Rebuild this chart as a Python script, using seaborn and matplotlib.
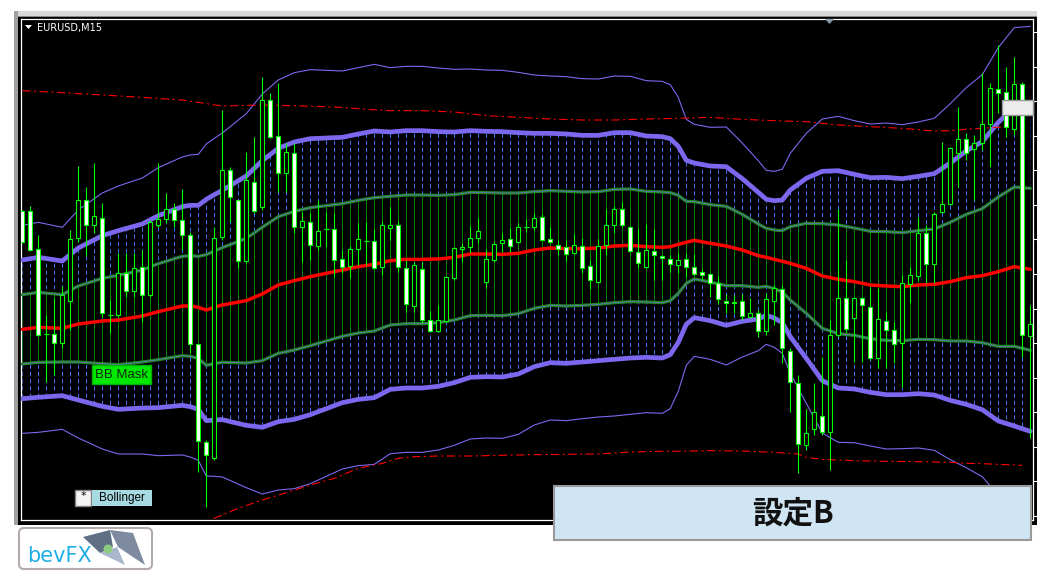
import numpy as np
import seaborn as sns
import matplotlib
matplotlib.use("Agg")
import matplotlib.pyplot as plt
from matplotlib.patches import Rectangle, Polygon, FancyBboxPatch, Circle
from matplotlib.path import Path

sns.set_style("dark")
plt.rcParams['font.family'] = ['DejaVu Sans']
plt.rcParams['lines.scale_dashes'] = False

BASE = 1.12000   # EURUSD, values below are points (0.00001) above this
POINT = 0.00001

# EURUSD M15 candles
open_pts = [927, 928, 812, 558, 558, 532, 658, 845, 959, 885,
            907, 616, 614, 740, 687, 758, 676, 884, 902, 932,
            900, 855, 528, 235, 185, 848, 1050, 959, 776, 1013,
            938, 1259, 1151, 1040, 1100, 878, 893, 822, 872, 872,
            782, 762, 814, 838, 837, 758, 875, 884, 755, 643,
            752, 599, 568, 598, 725, 812, 820, 845, 713, 779,
            830, 842, 835, 880, 878, 910, 842, 825, 820, 800,
            823, 763, 715, 824, 884, 932, 880, 803, 758, 808,
            793, 784, 765, 782, 758, 743, 738, 710, 658, 655,
            658, 609, 620, 568, 657, 692, 507, 410, 225, 272,
            312, 263, 555, 665, 605, 665, 640, 485, 598, 570,
            532, 707, 733, 860, 769, 923, 947, 1100, 1143, 1112,
            1130, 1187, 1292, 1283, 1172, 1307, 552]
high_pts = [930, 942, 855, 615, 665, 703, 870, 1063, 998, 1070,
            951, 660, 800, 800, 800, 810, 900, 1070, 980, 952,
            992, 865, 528, 240, 880, 1230, 1060, 960, 1105, 1150,
            1328, 1280, 1310, 1130, 1130, 925, 920, 960, 925, 922,
            810, 822, 890, 895, 873, 897, 938, 897, 780, 775,
            775, 627, 645, 732, 820, 832, 882, 905, 812, 835,
            860, 875, 890, 902, 922, 917, 880, 840, 840, 858,
            845, 780, 842, 932, 943, 955, 883, 872, 888, 872,
            795, 795, 800, 800, 797, 752, 742, 732, 678, 675,
            677, 665, 630, 680, 705, 705, 515, 435, 332, 410,
            490, 600, 932, 780, 670, 668, 700, 695, 625, 595,
            735, 760, 910, 885, 925, 1135, 1120, 1240, 1160, 1155,
            1340, 1310, 1425, 1360, 1388, 1315, 645]
low_pts = [830, 807, 552, 415, 435, 515, 570, 835, 792, 860,
           610, 562, 610, 670, 670, 595, 670, 880, 890, 880,
           810, 500, 145, 40, 180, 840, 893, 755, 770, 920,
           930, 1145, 985, 985, 860, 775, 780, 810, 820, 730,
           740, 725, 765, 765, 752, 735, 840, 745, 625, 625,
           590, 565, 565, 595, 720, 775, 800, 830, 695, 775,
           805, 805, 832, 865, 870, 838, 830, 795, 778, 798,
           740, 692, 710, 795, 860, 880, 805, 755, 755, 720,
           720, 745, 740, 730, 735, 720, 670, 648, 620, 620,
           600, 605, 550, 555, 585, 470, 325, 140, 210, 255,
           255, 150, 550, 565, 475, 475, 480, 455, 455, 470,
           400, 650, 720, 710, 710, 920, 945, 1000, 1080, 960,
           1110, 1060, 1220, 1150, 1155, 490, 245]
close_pts = [835, 810, 555, 558, 530, 675, 842, 959, 885, 911,
             620, 616, 740, 687, 755, 674, 894, 903, 934, 900,
             855, 527, 238, 195, 845, 1051, 970, 776, 1020, 928,
             1260, 1148, 1040, 1103, 878, 896, 825, 868, 872, 780,
             760, 812, 844, 838, 755, 884, 884, 758, 647, 764,
             600, 567, 601, 728, 815, 818, 845, 866, 782, 827,
             839, 823, 878, 880, 907, 841, 833, 812, 797, 824,
             755, 720, 823, 884, 932, 884, 807, 770, 811, 795,
             786, 768, 780, 759, 738, 735, 712, 662, 652, 650,
             612, 620, 568, 664, 695, 515, 413, 227, 260, 325,
             263, 555, 665, 572, 665, 645, 485, 602, 570, 528,
             710, 735, 860, 768, 917, 948, 1115, 1143, 1102, 1130,
             1187, 1295, 1280, 1180, 1307, 555, 587]

# Bollinger basis (red) and one standard deviation, read at these bars
band_bar = [0, 2, 5, 7, 10, 12, 15, 17, 20, 21, 22, 23, 24, 25, 28, 30, 32,
            34, 36, 38, 40, 42, 44, 46, 48, 50, 52, 54, 56, 58, 60, 62, 64,
            66, 68, 70, 72, 74, 76, 78, 80, 81, 82, 83, 84, 86, 88, 90, 92,
            93, 94, 95, 96, 98, 100, 102, 104, 106, 108, 110, 112, 114, 116,
            118, 120, 122, 124, 126]
mid_pts = [572, 578, 575, 588, 597, 600, 612, 625, 642, 642, 638, 630, 638,
           645, 658, 678, 705, 718, 730, 740, 750, 760, 767, 778, 782, 782,
           783, 788, 798, 798, 797, 800, 810, 816, 814, 814, 816, 822, 824,
           820, 818, 820, 827, 833, 839, 830, 822, 810, 793, 788, 782, 776,
           770, 755, 732, 722, 715, 705, 702, 700, 705, 707, 715, 727, 733,
           745, 760, 752]
sigma_pts = [104, 105, 101, 114, 128, 134, 138, 144, 149, 151, 153, 166, 169,
             172, 187, 200, 205, 208, 207, 203, 199, 199, 200, 193, 193, 193,
             191, 188, 185, 184, 184, 181, 175, 172, 172, 170, 169, 170, 169,
             166, 166, 162, 147, 123, 116, 116, 119, 107, 95, 87, 88, 92, 110,
             135, 157, 163, 161, 161, 163, 162, 163, 166, 178, 190, 201, 224,
             239, 243]

# longer period envelope (red dash-dot)
env_up_bar = [0, 5, 10, 15, 20, 25, 30, 35, 40, 43, 46, 50, 54, 58, 62, 66,
              70, 74, 78, 82, 86, 90, 94, 98, 102, 106, 110, 114, 116, 118,
              120, 123]
env_up_pts = [1288, 1282, 1275, 1268, 1260, 1242, 1245, 1242, 1238, 1232,
              1228, 1228, 1224, 1213, 1208, 1203, 1200, 1200, 1203, 1205,
              1208, 1202, 1198, 1195, 1185, 1180, 1175, 1167, 1168, 1172,
              1175, 1180]
env_lo_bar = [22, 24, 25, 27, 30, 33, 36, 39, 42, 45, 47, 49, 52, 56, 60, 64,
              68, 72, 76, 80, 84, 86, 90, 94, 97, 98, 100, 104, 108, 112, 116,
              118, 120, 122, 124, 125]
env_lo_pts = [-20, 5, 15, 35, 60, 82, 105, 125, 155, 170, 185, 190, 192, 192,
              194, 196, 197, 198, 204, 206, 207, 208, 207, 203, 198, 188, 182,
              178, 176, 175, 173, 170, 169, 167, 165, 164]

PURPLE = '#7b68ee'
LIME = '#00ff00'

to_price = lambda a: BASE + np.asarray(a, dtype=float) * POINT
o, h, l, c = map(to_price, (open_pts, high_pts, low_pts, close_pts))
bars = np.arange(len(open_pts))
bk = np.array(band_bar)
mid = to_price(mid_pts)
sig = np.asarray(sigma_pts, dtype=float) * POINT
ylo, yhi = BASE, BASE + 1503 * POINT

W, H = 1051, 580
fig = plt.figure(figsize=(W / 100, H / 100), dpi=100)
fig.patch.set_facecolor('white')


def px_box(x0, y0, x1, y1):
    return [x0 / W, 1 - y1 / H, (x1 - x0) / W, (y1 - y0) / H]


def overlay(z):
    a = fig.add_axes([0, 0, 1, 1], zorder=z)
    a.set_xlim(0, W)
    a.set_ylim(H, 0)
    a.axis('off')
    a.patch.set_alpha(0)
    return a


# window frame behind the chart
bg = overlay(0)
bg.add_patch(Rectangle((14, 11), 1023, 6, fc='#d8d8d8', ec='none'))
bg.add_patch(Rectangle((14, 16), 1023, 1.5, fc='#8a8a8a', ec='none'))
bg.add_patch(Rectangle((14, 11), 4, 514, fc='#a0a0a0', ec='none'))
bg.add_patch(Rectangle((18, 17), 1019, 508, fc='black', ec='none'))

ax = fig.add_axes(px_box(21, 19, 1033, 520), zorder=1)
ax.set_facecolor('black')


def band_path(lower, upper):
    pts = np.vstack([np.column_stack([bk, lower]),
                     np.column_stack([bk[::-1], upper[::-1]])])
    return Path(np.vstack([pts, pts[:1]]))


inner = band_path(mid - sig, mid + sig)
outer = Path.make_compound_path(band_path(mid + sig, mid + 2 * sig),
                                band_path(mid - 2 * sig, mid - sig))

# BB mask: blue dashes between 1 and 2 sigma, green strokes inside 1 sigma
blue = ax.vlines(bars, ylo, yhi, colors='#3f6cf0', linewidth=0.75,
                 linestyles=[(0, (3, 2.2))], zorder=2)
blue.set_clip_path(outer, ax.transData)
green = ax.vlines(bars, ylo, yhi, colors='#008a00', linewidth=0.7, zorder=2)
green.set_clip_path(inner, ax.transData)

for k, lw in ((3, 0.8), (2, 3.4)):
    sns.lineplot(x=bk, y=mid + k * sig, ax=ax, color=PURPLE, linewidth=lw, zorder=3)
    sns.lineplot(x=bk, y=mid - k * sig, ax=ax, color=PURPLE, linewidth=lw, zorder=3)
for s in (1, -1):
    sns.lineplot(x=bk, y=mid + s * sig, ax=ax, color='#1f8a1f', linewidth=2.3, zorder=4)
    sns.lineplot(x=bk, y=mid + s * sig, ax=ax, color=PURPLE, linewidth=0.45, zorder=4)

dashdot = (0, (6, 2.5, 1.5, 2.5))
sns.lineplot(x=env_up_bar, y=to_price(env_up_pts), ax=ax, color='red',
             linewidth=0.8, linestyle=dashdot, zorder=3)
sns.lineplot(x=env_lo_bar, y=to_price(env_lo_pts), ax=ax, color='red',
             linewidth=0.8, linestyle=dashdot, zorder=3)
sns.lineplot(x=bk, y=mid, ax=ax, color='red', linewidth=2.5, zorder=5)

# candles: white body = bear, black body = bull
ax.vlines(bars, l, h, colors=LIME, linewidth=0.8, zorder=6)
face = np.where(c < o, 'white', 'black')
ax.bar(bars, np.abs(c - o), bottom=np.minimum(o, c), width=0.55, color=face,
       edgecolor=LIME, linewidth=0.8, zorder=7)
doji = o == c
ax.hlines(o[doji], bars[doji] - 0.3, bars[doji] + 0.3, colors=LIME,
          linewidth=0.8, zorder=7)

ax.set_xlim(-0.16, 126.34)
ax.set_ylim(ylo, yhi)
ax.set_xticks(np.arange(0, len(bars), 8))
ax.set_xticklabels([])
ax.yaxis.tick_right()
ax.set_yticks(BASE + (12 + 103.7 * np.arange(15)) * POINT)
ax.set_yticklabels([])
ax.tick_params(colors='white', direction='out', length=3, width=0.8)
ax.set_xlabel('')
ax.set_ylabel('')
ax.grid(False)
for sp in ax.spines.values():
    sp.set_visible(True)
    sp.set_color('white')
    sp.set_linewidth(0.9)

# labels and buttons drawn over the chart
fg = overlay(2)
fg.add_patch(Polygon([[25, 25], [32, 25], [28.5, 29]], fc='white', ec='none'))
fg.text(37, 27.5, 'EURUSD,M15', color='white', fontsize=7, va='center', ha='left')
fg.add_patch(Polygon([[825, 19], [834, 19], [829.5, 24]], fc='#8a9aa8', ec='none'))
fg.add_patch(Rectangle((1002, 100), 31, 15, fc='#ececec', ec='#9a9a9a', lw=1))

fg.add_patch(Rectangle((92, 365), 59, 19, fc='#00e800', ec='#00b000', lw=1))
fg.text(121.5, 375, 'BB Mask', color='#0f2a0f', fontsize=9.5, ha='center',
        va='center', family=['Liberation Sans', 'DejaVu Sans'])

fg.add_patch(Rectangle((75, 490), 16, 16, fc='#f4f4f4', ec='#808080', lw=1))
fg.text(83, 496, '*', color='black', fontsize=8, ha='center', va='center')
fg.add_patch(Rectangle((92, 490), 60, 16, fc='#a7dbe3', ec='none'))
fg.text(122, 498.5, 'Bollinger', color='black', fontsize=8.5, ha='center',
        va='center', family=['Liberation Sans', 'DejaVu Sans'])

fg.add_patch(Rectangle((554, 486), 477, 54, fc='#d0e5f3', ec='#999999', lw=1.5))
fg.text(793, 513, '設定B', color='#111111', fontsize=22, fontweight='bold',
        ha='center', va='center', family=['Noto Sans CJK JP', 'DejaVu Sans'])

# bevFX logo
fg.add_patch(FancyBboxPatch((19, 528), 133, 41, boxstyle='round,pad=0,rounding_size=5',
                            fc='white', ec='#b5aaaa', lw=1.5))
fg.text(27, 556, 'bevFX', color='#20aee6', fontsize=15, va='center', ha='left')
fg.add_patch(Polygon([[83, 537], [110, 530], [113, 547], [100, 553]], fc='#5f6f85', ec='none'))
fg.add_patch(Polygon([[110, 530], [133, 533], [145, 565], [118, 547]], fc='#7d8aa0', ec='none'))
fg.add_patch(Polygon([[100, 553], [117, 547], [125, 565]], fc='#a9b6cc', ec='none'))
fg.add_patch(Circle((108, 549), 4.5, fc='#8ccc80', ec='none'))

fig.savefig('out.png', dpi=100, facecolor='white')
